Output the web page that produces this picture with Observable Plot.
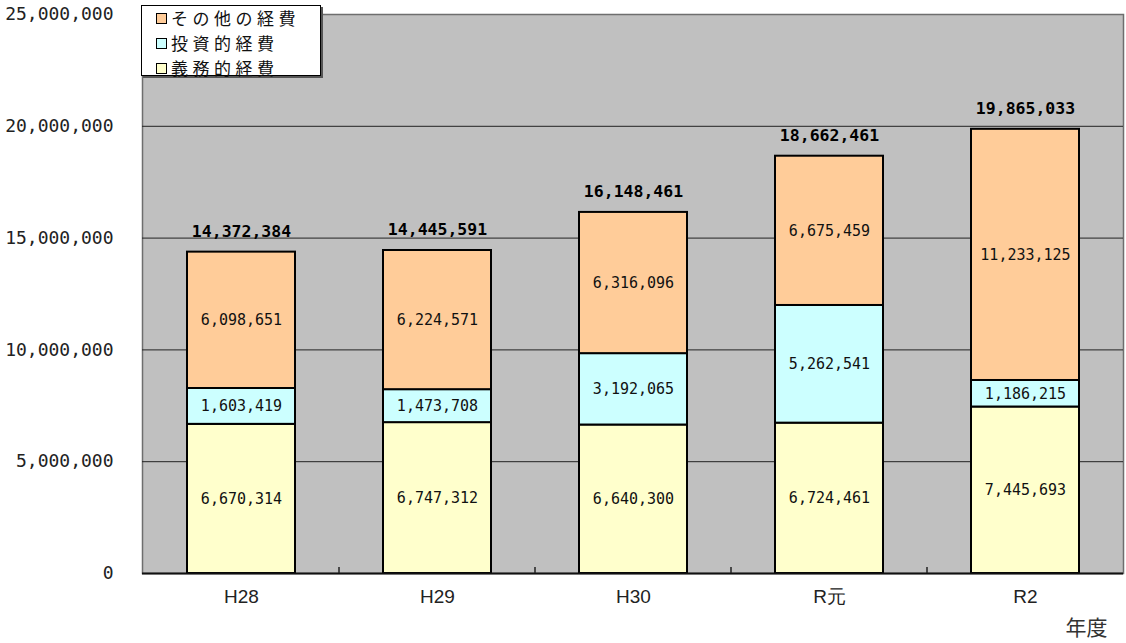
<!DOCTYPE html>
<html lang="ja">
<head>
<meta charset="utf-8">
<script src="https://cdn.jsdelivr.net/npm/d3@7"></script>
<script src="https://cdn.jsdelivr.net/npm/@observablehq/plot@0.6"></script>
<style>
  html, body { margin: 0; padding: 0; background: #fff; }
  #wrap { position: relative; width: 1126px; height: 643px; }
  #legend {
    position: absolute; left: 141px; top: 5px; width: 180px; height: 71px;
    background: #fff; border: 1px solid #000; box-shadow: 2px 2px 0 #555;
    font-family: "Noto Sans CJK JP", sans-serif; font-size: 17px; letter-spacing: 4.5px;
    color: #111; box-sizing: border-box;
  }
  #legend .item { position: absolute; left: 14px; height: 24px; line-height: 24px; display: flex; align-items: center; }
  #legend .sw { width: 9px; height: 9px; border: 1.5px solid #000; margin-right: 4px; box-sizing: content-box; }
</style>
</head>
<body>
<div id="wrap"><div id="chart"></div><div id="legend"></div></div>
<script>
// 年度ごとの歳出内訳（円）
const years = ["H28", "H29", "H30", "R元", "R2"];
const obligatory = [6670314, 6747312, 6640300, 6724461, 7445693];   // 義務的経費
const investment = [1603419, 1473708, 3192065, 5262541, 1186215];   // 投資的経費
const otherCosts = [6098651, 6224571, 6316096, 6675459, 11233125];  // その他の経費
const seriesNames = ["義務的経費", "投資的経費", "その他の経費"];
const seriesColors = ["#FFFFCC", "#CCFFFF", "#FFCC99"];
const yTicks = [0, 5000000, 10000000, 15000000, 20000000, 25000000];
const xTitle = "年度";

const seriesValues = [obligatory, investment, otherCosts];
const rows = [];
seriesNames.forEach((s, si) => years.forEach((yr, i) => rows.push({year: yr, series: s, value: seriesValues[si][i]})));
const totals = years.map((yr, i) => ({year: yr, total: obligatory[i] + investment[i] + otherCosts[i]}));
const fmt = d3.format(",");

const chart = Plot.plot({
  width: 1126,
  height: 643,
  marginLeft: 142,
  marginRight: 3,
  marginTop: 14,
  marginBottom: 70,
  style: {background: "transparent", fontFamily: "DejaVu Sans Mono", overflow: "visible"},
  x: {domain: years, paddingInner: 0.45, paddingOuter: 0.225, label: null},
  y: {domain: [0, 25000000], label: null},
  color: {domain: seriesNames, range: seriesColors},
  marks: [
    Plot.frame({fill: "#c0c0c0", stroke: "#6e6e6e", strokeWidth: 1.5}),
    Plot.ruleY(yTicks.slice(1, -1), {stroke: "#222", strokeWidth: 1}),
    Plot.barY(rows, {x: "year", y: "value", z: "series", fill: "series", stroke: "#000", strokeWidth: 2}),
    Plot.text(rows, Plot.stackY({
      x: "year", y: "value", z: "series", text: d => fmt(d.value),
      fontFamily: "DejaVu Sans Mono", fontSize: 15, fill: "#111"
    })),
    Plot.text(totals, {
      x: "year", y: "total", text: d => fmt(d.total), lineAnchor: "bottom", dy: -15,
      fontFamily: "DejaVu Sans Mono", fontWeight: "bold", fontSize: 16.5, fill: "#000"
    }),
    Plot.ruleY([0], {stroke: "#111", strokeWidth: 2}),
    Plot.axisY({ticks: yTicks, tickSize: 0, tickPadding: 29, tickFormat: fmt, fontSize: 18, fontFamily: "DejaVu Sans Mono", fill: "#222", label: null}),
    Plot.axisX({tickSize: 0, tickPadding: 16, fontSize: 19, fontFamily: "Liberation Sans", fill: "#222", label: null}),
    Plot.text([xTitle], {frameAnchor: "bottom-right", textAnchor: "end", lineAnchor: "middle", dx: -16, dy: 55, fontFamily: "Noto Sans CJK JP", fontSize: 21, fill: "#333"})
  ]
});
document.getElementById("chart").appendChild(chart);

// small tick marks on the baseline between categories
const xs = chart.scale("x");
const ys = chart.scale("y");
const step = xs.step ?? (xs.apply(years[1]) - xs.apply(years[0]));
const gap = (step - xs.bandwidth) / 2;
const y0 = ys.apply(0);
d3.select(chart).append("g")
  .selectAll("line")
  .data(years.slice(1))
  .join("line")
  .attr("x1", d => xs.apply(d) - gap)
  .attr("x2", d => xs.apply(d) - gap)
  .attr("y1", y0 - 6)
  .attr("y2", y0)
  .attr("stroke", "#222")
  .attr("stroke-width", 1.5);

// legend, top series first
const legend = d3.select("#legend");
seriesNames.slice().reverse().forEach((s, i) => {
  const item = legend.append("div").attr("class", "item").style("top", (0 + i * 25) + "px");
  item.append("span").attr("class", "sw").style("background", seriesColors[seriesNames.indexOf(s)]);
  item.append("span").text(s);
});
</script>
</body>
</html>
